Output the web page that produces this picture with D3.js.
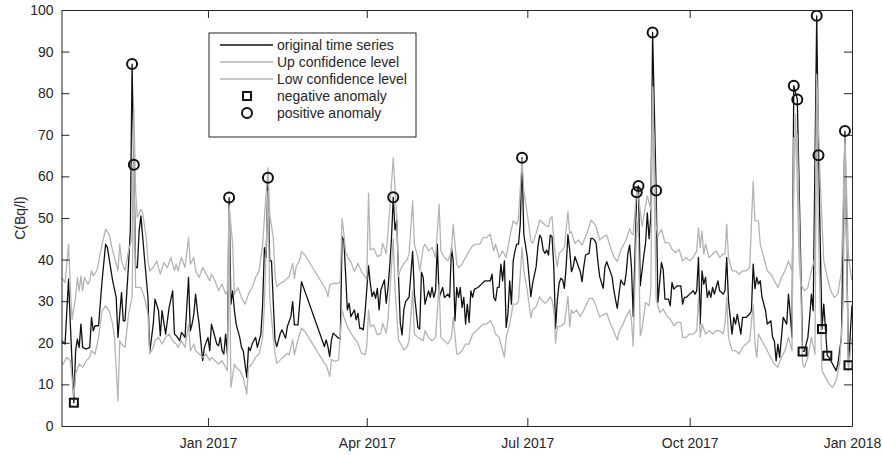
<!DOCTYPE html>
<html>
<head>
<meta charset="utf-8">
<title>Anomalies</title>
<style>
  body { margin: 0; background: #fff; }
  text { font-family: "Liberation Sans", Arial, Helvetica, sans-serif; }
</style>
</head>
<body>
<svg id="chart"></svg>
<script src="https://cdn.jsdelivr.net/npm/d3@7"></script>
<script>
// day offsets are counted from startDate
const startDate = '2016-10-10';
const endDate = '2018-01-01';
const tickDates = ['2017-01-01', '2017-04-01', '2017-07-01', '2017-10-01', '2018-01-01'];
const yTicks = [0, 10, 20, 30, 40, 50, 60, 70, 80, 90, 100];
const legendLabels = ['original time series', 'Up confidence level', 'Low confidence level', 'negative anomaly', 'positive anomaly'];

// [day, C(Bq/l)]
const original = [
  [0,20.5],[2,19.7],[4,35.3],[5,24.5],[7,5.6],[8,18.1],[9,20.9],[10,18.9],[11,24.5],[12,18.9],[14,18.5],[16,18.9],[17,26.1],[18,22.9],[19,24.1],[21,24.1],[23,34.9],[25,43.7],[26,42.9],[29,34.9],[31,30.9],[32,21.3],[33,26.9],[34,32.1],[35,25.3],[36,25.3],[38,38.9],[39,46.9],[40,87.0],[41,62.8],[42,38.1],[43,38.1],[44,46.9],[45,50.5],[47,40.5],[49,30.9],[50,17.7],[52,24.5],[53,30.5],[55,27.7],[56,21.7],[57,27.7],[59,22.1],[61,28.5],[63,32.5],[64,22.1],
  [65,21.7],[67,20.5],[68,22.5],[70,21.3],[72,35.7],[73,22.9],[74,24.5],[75,26.9],[76,31.7],[77,27.7],[78,24.5],[80,15.7],[81,18.9],[83,21.3],[84,18.1],[85,24.5],[86,22.9],[88,19.7],[89,19.3],[90,21.3],[91,18.1],[92,17.3],[93,22.1],[94,17.3],[95,54.9],[96,29.3],[97,32.5],[98,27.7],[99,24.5],[101,21.3],[102,18.9],[103,18.1],[105,11.7],[106,18.9],[107,18.1],[108,19.7],[110,21.3],[111,18.9],[113,22.1],[114,29.3],[115,42.9],[116,40.5],[117,59.7],[118,39.7],
  [119,39.7],[120,30.0],[121,20.7],[122,19.1],[124,22.3],[125,23.1],[127,21.1],[128,23.9],[129,25.1],[130,26.3],[131,29.9],[132,24.3],[134,24.3],[136,34.7],[149,19.1],[150,20.7],[151,19.1],[152,16.7],[153,20.7],[154,22.3],[155,21.9],[156,21.5],[157,21.1],[158,21.0],[159,45.5],[160,44.7],[161,36.7],[162,27.9],[163,29.5],[164,26.3],[166,27.9],[167,25.5],[168,27.1],[169,23.5],[170,23.5],[171,23.1],[172,27.1],[174,38.5],[175,34.3],[176,31.1],[177,32.3],[178,30.7],[179,33.1],[180,27.9],[181,32.7],[183,35.1],[184,29.5],[185,33.0],[186,38.3],[187,45.0],[188,55.0],[189,47.1],[190,49.5],[191,35.9],[192,24.7],[193,21.9],[194,27.9],[195,29.9],[197,31.0],[199,42.0],[200,31.7],[202,23.7],[203,23.3],[204,37.0],[205,35.7],[206,29.3],
  [207,30.9],[208,32.5],[209,30.9],[210,33.3],[211,30.9],[212,32.5],[213,43.7],[214,30.9],[216,33.3],[217,30.9],[219,31.7],[220,30.9],[221,42.9],[222,39.7],[223,25.3],[224,33.3],[225,30.9],[226,33.3],[227,28.5],[228,30.9],[229,24.5],[230,29.3],[231,24.9],[232,32.5],[233,30.9],[234,32.9],[236,33.3],[238,34.1],[240,34.9],[241,34.9],[243,34.9],[244,36.5],[245,30.9],[246,30.1],[247,33.3],[248,33.3],[249,38.9],[250,34.9],[251,39.7],[252,23.7],[253,26.9],[254,34.9],[255,29.3],[256,39.7],[257,42.1],[258,43.7],[259,43.7],[260,48.5],[261,64.5],[262,46.1],[264,40.5],[265,35.7],
  [266,31.1],[267,34.3],[269,38.3],[270,43.1],[271,45.9],[272,45.1],[273,42.3],[274,41.5],[275,42.3],[276,41.1],[277,45.9],[278,45.5],[279,38.3],[280,23.5],[281,30.3],[282,34.3],[283,35.5],[284,35.1],[285,33.1],[286,38.3],[287,46.0],[288,42.3],[289,37.1],[290,38.3],[291,40.7],[292,39.5],[294,37.1],[295,34.7],[296,38.3],[297,41.1],[299,41.5],[300,45.1],[301,45.1],[302,44.7],[303,43.9],[304,39.5],[305,35.9],[307,33.1],[308,38.3],[309,39.5],[310,38.3],[312,35.9],[313,32.7],[314,30.3],[315,28.3],[316,31.9],[317,35.1],[318,34.3],[319,33.9],[320,36.7],[321,41.5],[322,43.5],[323,38.3],[324,26.3],
  [326,56.2],[327,57.7],[328,33.7],[330,40.9],[331,44.0],[332,51.2],[333,45.0],[334,50.4],[335,94.6],[337,56.6],[338,29.7],[339,34.5],[340,39.3],[341,37.6],[342,30.5],[344,30.5],[345,28.9],[346,34.5],[347,32.9],[349,33.7],[351,33.7],
  [352,29.3],[353,30.9],[354,30.9],[356,31.7],[358,32.5],[359,31.7],[360,32.5],[361,40.5],[362,24.5],[363,37.3],[364,34.1],[365,35.7],[366,30.9],[367,32.5],[368,30.9],[369,33.3],[370,31.7],[371,33.3],[372,34.9],[373,32.5],[375,31.7],[376,32.5],[377,40.5],[378,30.1],[379,26.1],[380,22.1],[381,26.1],[382,24.5],[383,26.9],[384,24.5],[385,22.1],[386,26.1],[388,26.1],[390,26.9],[391,27.7],[392,38.9],[393,33.0],[394,35.7],[395,34.1],
  [396,34.9],[397,30.9],[399,27.7],[400,24.5],[402,25.3],[403,21.3],[404,20.5],[405,15.7],[406,19.7],[407,16.5],[408,21.3],[409,26.1],[411,24.5],[412,31.7],[413,26.9],[414,21.3],[415,81.8],[417,78.5],[420,17.9],[421,18.0],[423,21.3],[424,26.1],[425,31.7],[426,27.7],[428,98.6],[429,65.1],[431,23.3],[432,29.3],[434,16.9],[435,16.5],[437,14.9],[439,13.3],[440,14.9],[442,21.3],[444,70.9],[446,14.6],[447,22.0],[448,29.0]
];

const upLevel = [
  [0,35.7],[2,34.5],[4,43.7],[5,33.3],[6,25.7],[8,30.9],[9,35.7],[10,32.5],[11,36.1],[12,32.5],[13,35.7],[15,34.1],[16,34.9],[17,37.3],[18,36.1],[20,37.3],[23,43.7],[25,47.3],[27,46.1],[29,42.1],[30,40.5],[32,37.3],[33,43.7],[34,39.7],[36,37.3],[38,42.1],[40,45.3],[41,76.5],[42,56.5],[43,50.1],[45,52.1],[46,51.3],[48,45.3],[49,39.7],[50,37.3],[52,38.1],[54,39.7],[56,36.5],[58,39.3],[60,38.1],[62,40.5],[64,37.3],
  [65,38.9],[66,37.3],[68,40.5],[70,38.1],[72,45.3],[73,38.9],[75,40.5],[76,37.3],[78,35.7],[80,38.1],[82,36.5],[84,34.9],[85,36.5],[87,34.9],[89,32.5],[91,34.1],[93,31.7],[94,32.5],[95,53.0],[97,43.7],[98,31.7],[100,33.3],[102,30.9],[104,29.3],[106,31.7],[108,33.3],[110,35.7],[112,37.3],[114,43.7],[115,50.1],[117,62.1],[118,50.9],
  [120,45.3],[121,36.0],[122,33.5],[124,34.3],[126,34.7],[128,35.5],[129,35.9],[131,39.1],[132,35.5],[133,38.3],[135,39.9],[136,41.9],[138,41.1],[150,32.7],[151,31.1],[152,33.9],[154,34.3],[157,34.3],[158,34.7],[159,49.9],[160,46.3],[161,41.9],[163,39.9],[164,39.5],[166,37.1],[168,39.1],[170,37.1],[172,35.9],[173,35.1],[174,56.0],[175,42.3],[177,42.7],[179,40.7],[181,41.1],[182,43.9],[184,41.5],[185,46.3],[186,51.9],[188,64.5],[190,50.0],[191,35.9],[192,37.5],[194,39.1],[196,40.0],[197,41.5],[199,54.1],[200,43.7],[202,40.5],[203,37.3],[205,42.9],[206,43.7],
  [208,42.1],[210,42.9],[212,40.5],[214,53.3],[215,42.1],[217,40.5],[219,39.7],[221,42.1],[222,48.5],[224,38.9],[225,38.1],[227,38.9],[229,40.5],[231,42.1],[233,43.3],[235,43.7],[237,43.7],[239,45.3],[241,45.3],[243,46.1],[245,42.1],[246,43.7],[248,40.5],[250,42.1],[252,40.5],[254,45.3],[256,49.3],[258,48.5],[259,50.1],[261,64.1],[262,56.5],[264,50.9],
  [266,44.5],[267,43.9],[269,46.3],[271,49.5],[272,49.1],[274,48.3],[276,47.9],[277,49.9],[278,50.3],[279,44.7],[280,40.7],[281,38.3],[282,41.5],[284,42.3],[285,43.1],[287,51.5],[288,46.3],[289,46.7],[291,43.9],[293,44.7],[295,43.5],[297,45.5],[299,47.9],[300,49.5],[301,49.1],[303,47.9],[305,44.7],[307,45.5],[309,45.9],[311,43.1],[313,40.7],[315,39.5],[317,42.3],[318,43.1],[320,44.7],[322,47.5],[323,46.3],[324,46.0],
  [326,56.9],[327,55.3],[329,48.0],[330,50.5],[332,55.3],[334,52.0],[335,81.5],[337,48.1],[338,45.7],[340,47.3],[342,44.1],[344,44.1],[346,42.5],[348,41.7],[350,42.5],
  [352,39.7],[354,40.5],[356,39.7],[358,40.5],[360,42.1],[361,47.7],[362,42.9],[363,46.9],[364,41.3],[365,43.7],[367,40.5],[369,41.3],[371,42.1],[373,40.5],[375,41.3],[376,41.3],[377,48.5],[378,40.5],[380,37.3],[382,37.3],[384,36.5],[386,37.3],[388,37.3],[390,38.1],[392,58.9],[393,49.3],[395,49.3],
  [396,43.7],[398,40.5],[400,37.3],[402,36.5],[404,34.9],[406,33.3],[408,35.7],[410,37.3],[412,39.7],[414,37.3],[416,75.0],[418,40.5],[419,34.1],[421,32.5],[423,33.3],[425,37.3],[427,40.5],[428,84.5],[430,58.9],[432,39.7],[434,35.7],[436,32.5],[438,30.9],[440,31.7],[442,37.3],[444,69.3],[446,41.3],[447,37.3],[448,35.0]
];

const lowLevel = [
  [0,15.3],[1,14.9],[3,16.5],[5,15.7],[7,6.9],[8,12.5],[10,14.9],[12,14.1],[14,15.7],[16,16.5],[17,18.1],[19,17.3],[21,21.3],[23,27.7],[25,28.9],[27,27.7],[29,24.5],[30,21.3],[32,6.1],[33,20.5],[34,19.7],[36,18.9],[38,26.9],[40,30.9],[41,62.9],[42,33.3],[45,33.3],[47,30.9],[49,26.9],[50,17.3],[52,18.9],[53,20.5],[55,21.3],[57,19.7],[59,21.3],[61,22.1],[63,20.5],
  [65,19.7],[66,18.9],[68,20.5],[70,18.9],[72,24.5],[73,18.1],[75,19.7],[76,18.1],[78,17.3],[80,16.5],[82,17.3],[84,15.7],[85,16.5],[87,15.7],[89,14.9],[91,15.7],[93,14.1],[94,13.3],[95,51.7],[96,9.3],[98,14.9],[99,14.1],[101,13.3],[103,11.7],[105,7.7],[106,14.1],[108,14.9],[110,16.5],[112,17.3],[114,21.3],[115,29.3],[117,56.5],[118,30.9],
  [120,21.3],[121,17.5],[122,15.1],[124,15.9],[126,16.7],[128,17.5],[129,17.1],[131,20.7],[132,17.1],[134,20.7],[136,23.5],[138,22.7],[149,15.1],[150,14.7],[152,11.9],[153,16.0],[155,15.5],[157,15.9],[159,27.9],[160,26.3],[162,23.9],[164,22.3],[166,21.1],[168,19.9],[170,17.5],[172,17.1],[173,19.1],[174,27.9],[175,23.9],[177,24.3],[179,21.9],[181,22.3],[182,24.7],[184,22.3],[185,25.5],[187,38.3],[188,45.0],[189,33.0],[191,20.7],[192,19.9],[194,18.3],[196,19.1],[197,20.7],[199,32.5],[200,22.1],[202,21.3],[205,20.5],[206,22.9],
  [208,21.3],[210,20.5],[212,21.3],[214,34.1],[215,21.3],[217,20.5],[219,19.7],[221,21.3],[222,26.1],[224,17.3],[225,17.3],[227,18.1],[229,19.7],[231,19.7],[233,22.1],[235,22.9],[237,23.7],[239,24.5],[241,24.5],[243,25.3],[245,23.7],[246,22.1],[248,21.3],[251,16.5],[252,21.3],[254,24.5],[256,29.3],[258,29.3],[259,30.1],[261,42.9],[262,37.3],[264,32.5],
  [266,26.0],[267,27.9],[269,28.7],[271,31.1],[272,30.3],[274,29.5],[276,30.3],[277,31.1],[278,30.3],[279,27.9],[280,19.9],[281,23.9],[282,23.9],[284,24.3],[285,24.7],[287,31.1],[288,23.9],[289,27.9],[290,27.1],[292,27.9],[294,26.3],[296,27.9],[297,28.7],[299,30.7],[301,30.7],[303,28.7],[305,26.3],[307,26.7],[309,27.1],[311,24.7],[313,22.7],[315,20.7],[316,22.7],[318,24.3],[320,26.3],[322,27.9],[323,25.5],[324,19.2],
  [326,50.0],[327,45.0],[328,21.7],[329,23.3],[331,29.7],[333,28.9],[334,32.9],[335,80.5],[337,30.5],[339,27.3],[341,28.1],[343,26.5],[345,25.7],[347,24.1],[349,24.9],[351,24.9],
  [352,21.3],[354,21.3],[356,22.1],[358,22.1],[360,22.9],[361,30.9],[362,21.3],[363,24.5],[365,22.1],[367,22.9],[369,22.1],[371,22.9],[373,22.9],[375,22.1],[376,24.5],[377,30.9],[378,21.3],[380,18.1],[382,18.1],[384,17.3],[386,18.9],[388,19.7],[390,20.5],[392,29.3],[393,19.7],[394,16.5],[395,22.1],
  [396,21.3],[398,19.7],[400,18.1],[402,16.5],[404,14.9],[406,14.1],[408,16.5],[410,18.1],[412,21.3],[414,18.1],[415,69.3],[417,70.0],[420,14.9],[421,14.1],[423,16.5],[425,21.3],[427,17.3],[428,81.3],[429,45.3],[431,13.3],[433,11.7],[435,10.1],[437,9.3],[439,10.9],[441,14.9],[443,29.3],[444,67.7],[446,13.3],[447,17.3],[448,21.3]
];

const positiveAnomaly = [[40,87.0],[41,62.8],[95,54.9],[117,59.7],[188,55.0],[261,64.5],[326,56.2],[327,57.7],[335,94.6],[337,56.6],[415,81.8],[417,78.5],[428,98.6],[429,65.1],[444,70.9]];
const negativeAnomaly = [[7,5.6],[420,17.9],[431,23.3],[434,16.9],[446,14.6]];

const [width, height] = [882, 455];
const plot = { left: 61.5, right: 852, top: 10, bottom: 426 };
const axisColor = '#262626';
const grayColor = '#b4b4b4';

const t0 = d3.utcParse('%Y-%m-%d')(startDate);
const toDate = d => d3.utcDay.offset(t0, d);

const svg = d3.select('#chart')
  .attr('width', width)
  .attr('height', height)
  .style('font-size', '14px');

const x = d3.scaleUtc()
  .domain([t0, d3.utcParse('%Y-%m-%d')(endDate)])
  .range([plot.left, plot.right]);

const y = d3.scaleLinear()
  .domain([0, 100])
  .range([plot.bottom, plot.top]);

svg.append('clipPath').attr('id', 'clip')
  .append('rect')
  .attr('x', plot.left).attr('y', plot.top)
  .attr('width', plot.right - plot.left).attr('height', plot.bottom - plot.top);

const line = d3.line()
  .x(d => x(toDate(d[0])))
  .y(d => y(d[1]));

const data = svg.append('g').attr('clip-path', 'url(#clip)');

// black first, the bands are drawn over it
data.append('path')
  .datum(original)
  .attr('fill', 'none')
  .attr('stroke', '#111')
  .attr('stroke-width', 1.3)
  .attr('stroke-linejoin', 'round')
  .attr('d', line);

[upLevel, lowLevel].forEach(series => {
  data.append('path')
    .datum(series)
    .attr('fill', 'none')
    .attr('stroke', grayColor)
    .attr('stroke-width', 1.3)
    .attr('stroke-linejoin', 'round')
    .attr('d', line);
});

data.selectAll('rect.neg')
  .data(negativeAnomaly)
  .enter()
  .append('rect')
  .attr('class', 'neg')
  .attr('x', d => x(toDate(d[0])) - 4)
  .attr('y', d => y(d[1]) - 4)
  .attr('width', 8)
  .attr('height', 8)
  .attr('fill', 'none')
  .attr('stroke', '#111')
  .attr('stroke-width', 2);

data.selectAll('circle.pos')
  .data(positiveAnomaly)
  .enter()
  .append('circle')
  .attr('class', 'pos')
  .attr('cx', d => x(toDate(d[0])))
  .attr('cy', d => y(d[1]))
  .attr('r', 5)
  .attr('fill', 'none')
  .attr('stroke', '#111')
  .attr('stroke-width', 2);

// axes: box with ticks pointing inwards
const xTicks = tickDates.map(d => d3.utcParse('%Y-%m-%d')(d));

function styleAxis(g) {
  g.selectAll('path, line').attr('stroke', axisColor);
  g.selectAll('text').attr('fill', axisColor).style('font-size', '14px')
    .style('font-family', '"Liberation Sans", Arial, Helvetica, sans-serif');
}

svg.append('g')
  .attr('transform', 'translate(0,' + plot.bottom + ')')
  .call(d3.axisBottom(x).tickValues(xTicks).tickFormat(d3.utcFormat('%b %Y'))
    .tickSizeInner(-8).tickSizeOuter(0).tickPadding(12))
  .call(styleAxis);

svg.append('g')
  .attr('transform', 'translate(0,' + plot.top + ')')
  .call(d3.axisTop(x).tickValues(xTicks).tickFormat('')
    .tickSizeInner(-8).tickSizeOuter(0))
  .call(styleAxis);

svg.append('g')
  .attr('transform', 'translate(' + plot.left + ',0)')
  .call(d3.axisLeft(y).tickValues(yTicks).tickSizeInner(-8).tickSizeOuter(0).tickPadding(8))
  .call(styleAxis);

svg.append('g')
  .attr('transform', 'translate(' + plot.right + ',0)')
  .call(d3.axisRight(y).tickValues(yTicks).tickFormat('')
    .tickSizeInner(-8).tickSizeOuter(0))
  .call(styleAxis);

svg.selectAll('.domain').attr('stroke-width', 1);

svg.append('text')
  .attr('transform', 'translate(25,' + (plot.top + plot.bottom) / 2 + ') rotate(-90)')
  .attr('text-anchor', 'middle')
  .attr('fill', axisColor)
  .text('C(Bq/l)');

// legend
const legend = svg.append('g').attr('transform', 'translate(209,33)');
legend.append('rect')
  .attr('width', 207)
  .attr('height', 104)
  .attr('fill', '#fff')
  .attr('stroke', axisColor)
  .attr('stroke-width', 1);

const rows = legend.selectAll('g.row')
  .data(legendLabels)
  .enter()
  .append('g')
  .attr('class', 'row')
  .attr('transform', (d, i) => 'translate(0,' + (12 + i * 17) + ')');

rows.filter((d, i) => i < 3)
  .append('line')
  .attr('x1', 11).attr('x2', 64)
  .attr('stroke', (d, i) => i === 0 ? '#111' : grayColor)
  .attr('stroke-width', 1.3);

rows.filter((d, i) => i === 3)
  .append('rect')
  .attr('x', 34).attr('y', -4).attr('width', 8).attr('height', 8)
  .attr('fill', 'none').attr('stroke', '#111').attr('stroke-width', 2);

rows.filter((d, i) => i === 4)
  .append('circle')
  .attr('cx', 38).attr('r', 5)
  .attr('fill', 'none').attr('stroke', '#111').attr('stroke-width', 2);

rows.append('text')
  .attr('x', 68)
  .attr('dy', '0.35em')
  .attr('fill', axisColor)
  .text(d => d);
</script>
</body>
</html>
